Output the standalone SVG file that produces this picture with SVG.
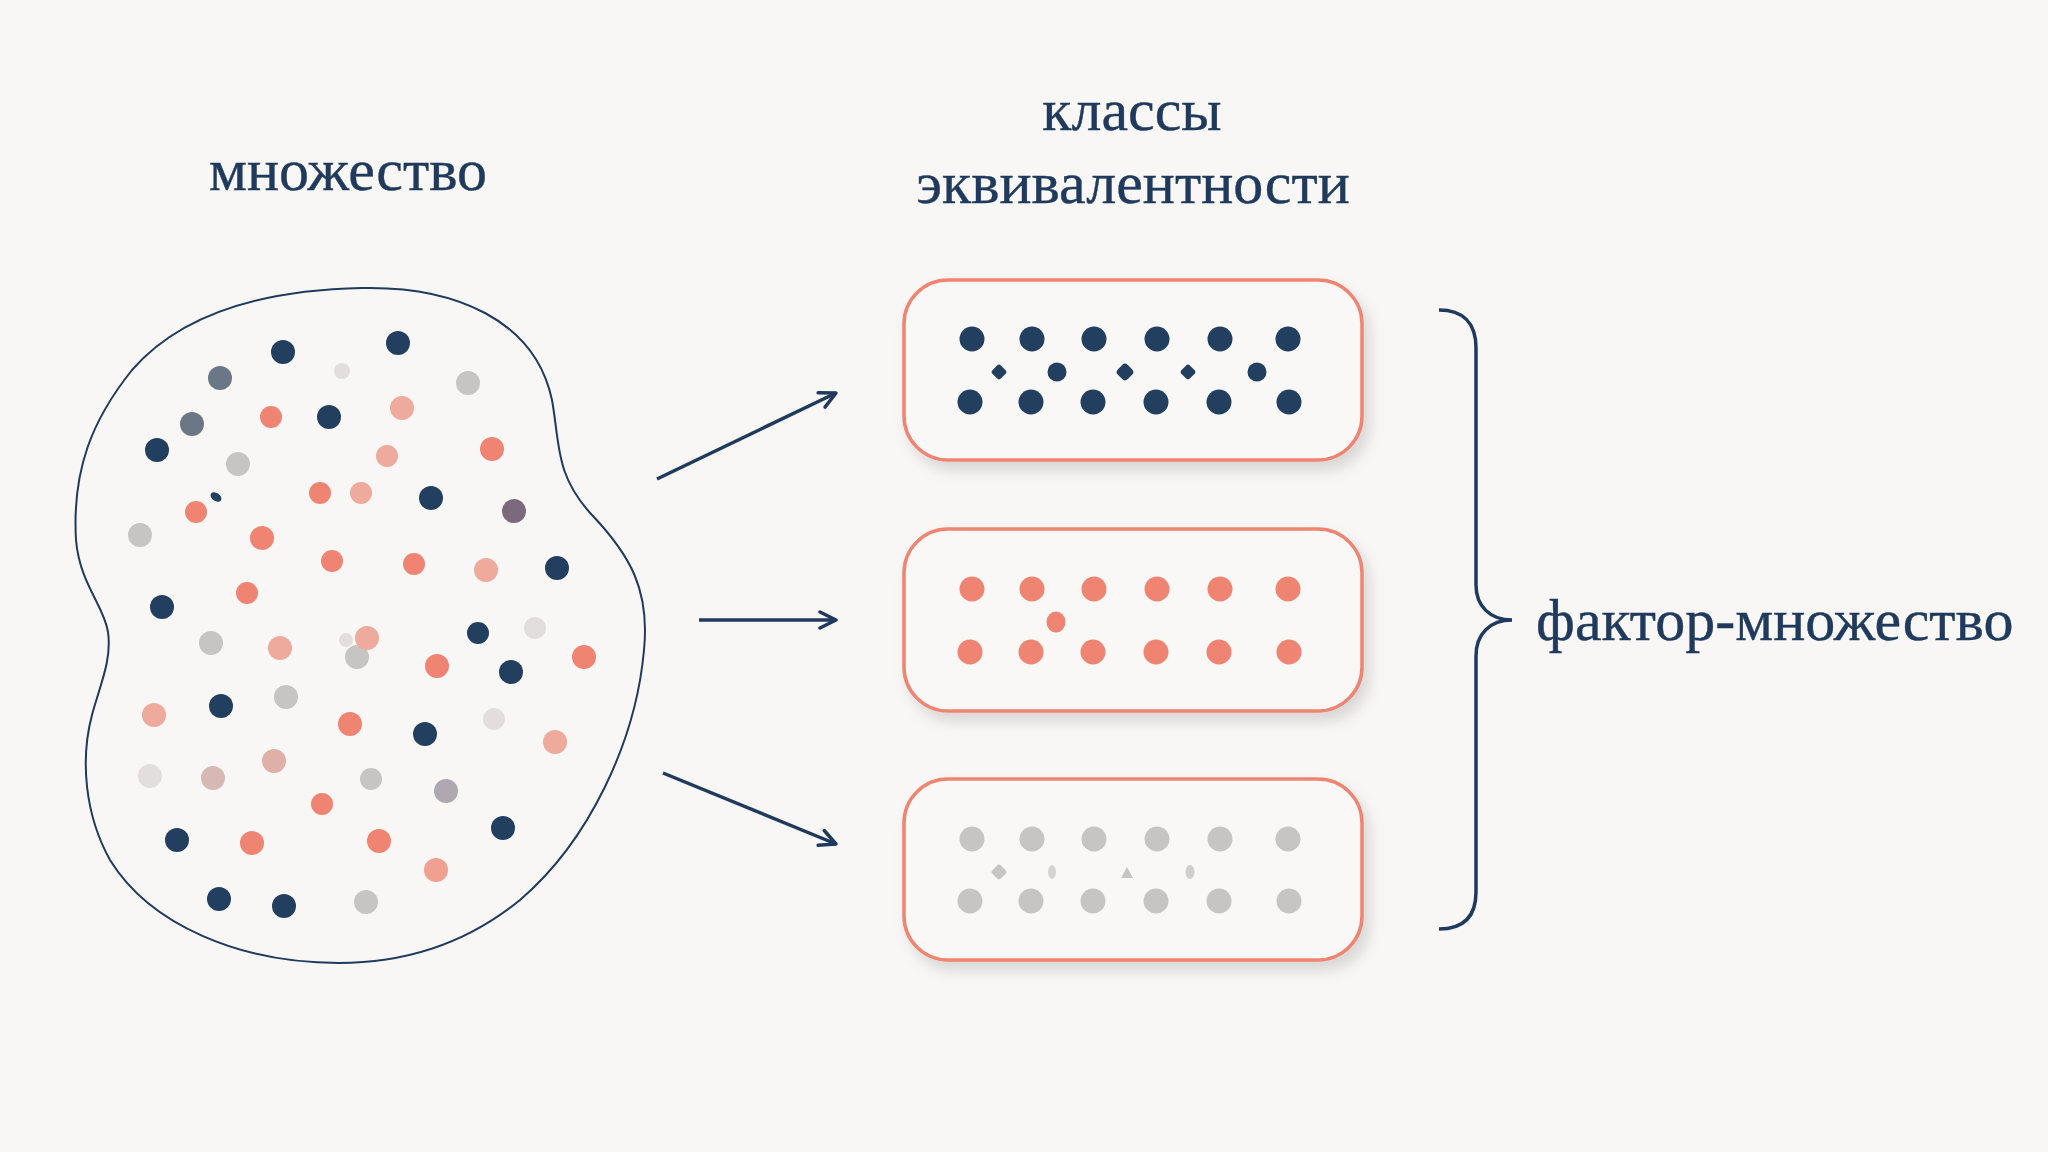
<svg xmlns="http://www.w3.org/2000/svg" width="2048" height="1152" viewBox="0 0 2048 1152">
<defs>
<style>
.t{font-family:"Liberation Serif","DejaVu Serif",serif;font-size:60px;fill:#1f3a5c;text-anchor:middle;stroke:#1f3a5c;stroke-width:0.4}
.n{fill:#233f5f}.c{fill:#ef8472}.pc{fill:#eeaa9c}.g{fill:#c7c4c4}.lg{fill:#e2dede}.s{fill:#6b7687}.m{fill:#7a6a7c}
.box{fill:#f9f8f6;stroke:#ef8472;stroke-width:3.5}
.conn{stroke:#1f3a5c;stroke-width:3.5;fill:none}
</style>
<filter id="sh" x="-10%" y="-20%" width="130%" height="150%">
<feDropShadow dx="6" dy="9" stdDeviation="7" flood-color="#000" flood-opacity="0.13"/>
</filter>
<marker id="ah" viewBox="0 0 20 20" refX="18" refY="10" markerWidth="20" markerHeight="20" markerUnits="userSpaceOnUse" orient="auto">
<path d="M2,2 L18,10 L2,18" fill="none" stroke="#1f3a5c" stroke-width="3.5" stroke-linecap="round" stroke-linejoin="round"/>
</marker>
</defs>
<rect width="2048" height="1152" fill="#f8f7f5"/>

<g id="labels">
<text class="t" x="348" y="190">множество</text>
<text class="t" x="1132" y="130">классы</text>
<text class="t" x="1133" y="203">эквивалентности</text>
<text class="t" x="1536" y="640" style="text-anchor:start">фактор-множество</text>
</g>

<g id="set">
<path d="M362,288 C455,286 535,320 552,400 C560,445 555,475 592,515 C630,555 650,590 644,650 C636,740 590,840 520,900 C465,945 405,963 339,963 C240,963 150,925 110,860 C85,815 80,760 92,715 C100,685 112,660 108,632 C104,605 80,585 76,540 C72,470 92,420 132,370 C180,315 260,290 362,288 Z" fill="none" stroke="#1f3a5c" stroke-width="2"/>
<circle class="n" cx="283" cy="352" r="12"/>
<circle class="n" cx="398" cy="343" r="12"/>
<circle class="lg" cx="342" cy="371" r="8"/>
<circle class="s" cx="220" cy="378" r="12"/>
<circle class="g" cx="468" cy="383" r="12"/>
<circle class="c" cx="271" cy="417" r="11"/>
<circle class="n" cx="329" cy="417" r="12"/>
<circle class="pc" cx="402" cy="408" r="12"/>
<circle class="s" cx="192" cy="424" r="12"/>
<circle class="n" cx="157" cy="450" r="12"/>
<circle class="g" cx="238" cy="464" r="12"/>
<circle class="pc" cx="387" cy="456" r="11"/>
<circle class="c" cx="492" cy="449" r="12"/>
<ellipse class="n" cx="216" cy="497" rx="6" ry="4" transform="rotate(35 216 497)"/>
<circle class="c" cx="196" cy="512" r="11"/>
<circle class="c" cx="320" cy="493" r="11"/>
<circle class="pc" cx="361" cy="493" r="11"/>
<circle class="n" cx="431" cy="498" r="12"/>
<circle class="m" cx="514" cy="511" r="12"/>
<circle class="g" cx="140" cy="535" r="12"/>
<circle class="c" cx="262" cy="538" r="12"/>
<circle class="c" cx="332" cy="561" r="11"/>
<circle class="c" cx="414" cy="564" r="11"/>
<circle class="pc" cx="486" cy="570" r="12"/>
<circle class="n" cx="557" cy="568" r="12"/>
<circle class="c" cx="247" cy="593" r="11"/>
<circle class="n" cx="162" cy="607" r="12"/>
<circle class="g" cx="211" cy="643" r="12"/>
<circle class="pc" cx="280" cy="648" r="12"/>
<circle class="lg" cx="346" cy="640" r="7"/>
<circle class="g" cx="357" cy="657" r="12"/>
<circle class="pc" cx="367" cy="638" r="12"/>
<circle class="n" cx="478" cy="633" r="11"/>
<circle class="lg" cx="535" cy="628" r="11"/>
<circle class="c" cx="437" cy="666" r="12"/>
<circle class="n" cx="511" cy="672" r="12"/>
<circle class="c" cx="584" cy="657" r="12"/>
<circle class="pc" cx="154" cy="715" r="12"/>
<circle class="n" cx="221" cy="706" r="12"/>
<circle class="g" cx="286" cy="697" r="12"/>
<circle class="c" cx="350" cy="724" r="12"/>
<circle class="n" cx="425" cy="734" r="12"/>
<circle class="lg" cx="494" cy="719" r="11"/>
<circle class="pc" cx="555" cy="742" r="12"/>
<circle class="lg" cx="150" cy="776" r="12"/>
<circle class="pc" cx="213" cy="778" r="12" style="fill:#d8b8b4"/>
<circle class="pc" cx="274" cy="761" r="12" style="fill:#dfb0a8"/>
<circle class="g" cx="371" cy="779" r="11"/>
<circle class="g" cx="446" cy="791" r="12" style="fill:#b0a8b0"/>
<circle class="c" cx="322" cy="804" r="11"/>
<circle class="n" cx="177" cy="840" r="12"/>
<circle class="c" cx="252" cy="843" r="12"/>
<circle class="c" cx="379" cy="841" r="12"/>
<circle class="n" cx="503" cy="828" r="12"/>
<circle class="pc" cx="436" cy="870" r="12" style="fill:#efa090"/>
<circle class="n" cx="219" cy="899" r="12"/>
<circle class="n" cx="284" cy="906" r="12"/>
<circle class="g" cx="366" cy="902" r="12"/>
</g>

<g id="class1">
<rect class="box" x="904" y="280" width="458" height="180" rx="44" filter="url(#sh)"/>
<g class="n">
<circle cx="972" cy="339" r="12.5"/><circle cx="1032" cy="339" r="12.5"/><circle cx="1094" cy="339" r="12.5"/><circle cx="1157" cy="339" r="12.5"/><circle cx="1220" cy="339" r="12.5"/><circle cx="1288" cy="339" r="12.5"/>
<circle cx="970" cy="402" r="12.5"/><circle cx="1031" cy="402" r="12.5"/><circle cx="1093" cy="402" r="12.5"/><circle cx="1156" cy="402" r="12.5"/><circle cx="1219" cy="402" r="12.5"/><circle cx="1289" cy="402" r="12.5"/>
<rect x="993" y="366" width="12" height="12" rx="3" transform="rotate(45 999 372)"/>
<circle cx="1057" cy="372" r="9.5"/>
<rect x="1118" y="365" width="14" height="14" rx="4" transform="rotate(45 1125 372)"/>
<rect x="1182" y="366" width="12" height="12" rx="3" transform="rotate(45 1188 372)"/>
<circle cx="1257" cy="372" r="9.5"/>
</g>
</g>

<g id="class2">
<rect class="box" x="904" y="529" width="458" height="182" rx="44" filter="url(#sh)"/>
<g class="c">
<circle cx="972" cy="589" r="12.5"/><circle cx="1032" cy="589" r="12.5"/><circle cx="1094" cy="589" r="12.5"/><circle cx="1157" cy="589" r="12.5"/><circle cx="1220" cy="589" r="12.5"/><circle cx="1288" cy="589" r="12.5"/>
<circle cx="970" cy="652" r="12.5"/><circle cx="1031" cy="652" r="12.5"/><circle cx="1093" cy="652" r="12.5"/><circle cx="1156" cy="652" r="12.5"/><circle cx="1219" cy="652" r="12.5"/><circle cx="1289" cy="652" r="12.5"/>
<ellipse cx="1056" cy="622" rx="9.5" ry="10.5"/>
</g>
</g>

<g id="class3">
<rect class="box" x="904" y="779" width="458" height="181" rx="44" filter="url(#sh)"/>
<g class="g">
<circle cx="972" cy="839" r="12.5"/><circle cx="1032" cy="839" r="12.5"/><circle cx="1094" cy="839" r="12.5"/><circle cx="1157" cy="839" r="12.5"/><circle cx="1220" cy="839" r="12.5"/><circle cx="1288" cy="839" r="12.5"/>
<circle cx="970" cy="901" r="12.5"/><circle cx="1031" cy="901" r="12.5"/><circle cx="1093" cy="901" r="12.5"/><circle cx="1156" cy="901" r="12.5"/><circle cx="1219" cy="901" r="12.5"/><circle cx="1289" cy="901" r="12.5"/>
<rect x="993" y="866" width="12" height="12" rx="3" transform="rotate(45 999 872)"/>
<ellipse cx="1052" cy="872" rx="4" ry="7" opacity="0.7"/>
<path d="M1121,878 L1127,867 L1133,878 Z"/>
<ellipse cx="1190" cy="872" rx="4.5" ry="7" opacity="0.8"/>
</g>
</g>

<g id="connectors">
<line class="conn" x1="657" y1="479" x2="836" y2="393" marker-end="url(#ah)"/>
<line class="conn" x1="699" y1="620" x2="836" y2="620" marker-end="url(#ah)"/>
<line class="conn" x1="663" y1="773" x2="836" y2="844" marker-end="url(#ah)"/>
<path class="conn" d="M1439,310 C1462,310 1476,322 1476,348 L1476,585 C1476,606 1490,620 1512,620 C1490,620 1476,634 1476,656 L1476,892 C1476,918 1462,929 1439,929"/>
</g>
</svg>
